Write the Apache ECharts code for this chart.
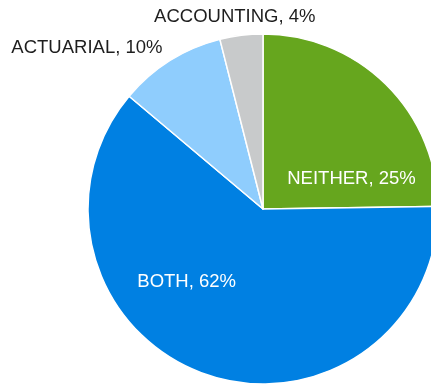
<!DOCTYPE html>
<html>
<head>
<meta charset="utf-8">
<script src="https://cdn.jsdelivr.net/npm/echarts@6/dist/echarts.min.js"></script>
<style>
  html, body { margin: 0; padding: 0; background: #ffffff; }
  #chart { width: 431px; height: 385px; }
</style>
</head>
<body>
<div id="chart"></div>
<script>
// Share of respondents by exam track
const categories = ['NEITHER', 'BOTH', 'ACTUARIAL', 'ACCOUNTING'];
const shares = [25, 62, 10, 4];

const sliceColors = ['#66a61e', '#0080e2', '#8fcdfd', '#c8cacb'];
const labelColors = ['#ffffff', '#ffffff', '#1e1e1e', '#1e1e1e'];
// Nudges (px) applied to each label from its default inside position
const labelShift = [[25, 34], [-46, -12], [-128, -84], [-17, -102]];

const chart = echarts.init(document.getElementById('chart'), null, { renderer: 'canvas' });

chart.setOption({
  backgroundColor: '#ffffff',
  animation: false,
  series: [{
    type: 'pie',
    center: [263, 209],
    radius: 175,
    startAngle: 90,
    clockwise: true,
    avoidLabelOverlap: false,
    silent: true,
    itemStyle: { borderColor: '#ffffff', borderWidth: 1.5 },
    label: {
      show: true,
      position: 'inside',
      formatter: '{b}, {c}%',
      fontFamily: '"Liberation Sans", Arial, sans-serif',
      fontSize: 18.5
    },
    labelLine: { show: false },
    labelLayout: function (p) {
      const s = labelShift[p.dataIndex];
      return { dx: s[0], dy: s[1] };
    },
    data: categories.map(function (name, i) {
      return {
        name: name,
        value: shares[i],
        itemStyle: { color: sliceColors[i] },
        label: { color: labelColors[i] }
      };
    })
  }]
});
</script>
</body>
</html>
